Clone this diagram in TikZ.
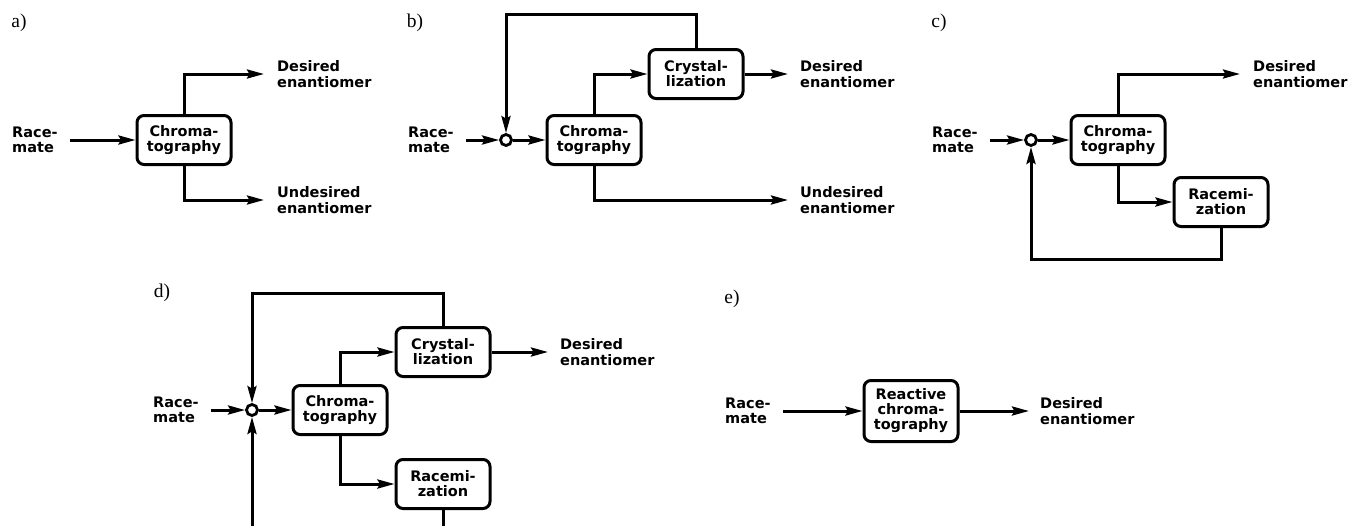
\documentclass[tikz,border=0pt]{standalone}
\usepackage{fontspec}
\setmainfont{Liberation Serif}
\newfontfamily\dejabold{DejaVu Sans Bold}
\usetikzlibrary{arrows.meta}
\tikzset{
  proc/.style={draw, line width=3pt, rounded corners=7pt, minimum width=94pt, minimum height=49pt, align=center, inner sep=2pt, font=\fontsize{14.5}{15}\selectfont\dejabold},
  txt/.style={align=left, inner sep=0pt, font=\fontsize{14.5}{15.5}\selectfont\dejabold},
  lbl/.style={inner sep=0pt, font=\fontsize{19.5}{19.5}\selectfont},
  junc/.style={draw, circle, line width=2.8pt, minimum size=11pt, inner sep=0pt},
  arr/.style={line width=3pt, -{Stealth[length=17pt,width=9pt,inset=2.5pt]}},
}
\begin{document}
\begin{tikzpicture}[x=1pt,y=-1pt]
\useasboundingbox (0,0) rectangle (1348,525);
\clip (0,0) rectangle (1348,525);
% ---------- a)
\node[lbl] (la) at (19,23) {a)};
\node[txt, anchor=west] (raceA) at (12,140) {Race-\\mate};
\node[proc] (chrA) at (184,140) {Chroma-\\tography};
\node[txt, anchor=west] (desA) at (277,74) {Desired\\enantiomer};
\node[txt, anchor=west] (undA) at (277,200) {Undesired\\enantiomer};
\draw[arr] ([xshift=12.5pt]raceA.east) -- (chrA.west);
\draw[arr] (chrA.north) |- ([xshift=-13pt]desA.west);
\draw[arr] (chrA.south) |- ([xshift=-13pt]undA.west);
% ---------- b)
\node[lbl] (lb) at (415,23) {b)};
\node[txt, anchor=west] (raceB) at (408,140) {Race-\\mate};
\node[junc] (circB) at (506,140) {};
\node[proc] (chrB) at (594,140) {Chroma-\\tography};
\node[proc] (cryB) at (696,74) {Crystal-\\lization};
\node[txt, anchor=west] (desB) at (800,74) {Desired\\enantiomer};
\node[txt, anchor=west] (undB) at (800,200) {Undesired\\enantiomer};
\draw[arr] ([xshift=12.5pt]raceB.east) -- (circB.west);
\draw[arr] (circB.east) -- (chrB.west);
\draw[arr] (chrB.north) |- (cryB.west);
\draw[arr] (cryB.east) -- ([xshift=-12pt]desB.west);
\draw[arr] (chrB.south) |- ([xshift=-12pt]undB.west);
\draw[arr] (cryB.north) -- ++(0,-34) -| (circB.north);
% ---------- c)
\node[lbl] (lc) at (939,23) {c)};
\node[txt, anchor=west] (raceC) at (932,140) {Race-\\mate};
\node[junc] (circC) at (1031,140) {};
\node[proc] (chrC) at (1118,140) {Chroma-\\tography};
\node[proc] (racC) at (1221,202) {Racemi-\\zation};
\node[txt, anchor=west] (desC) at (1253,74) {Desired\\enantiomer};
\draw[arr] ([xshift=12.5pt]raceC.east) -- (circC.west);
\draw[arr] (circC.east) -- (chrC.west);
\draw[arr] (chrC.north) |- ([xshift=-13pt]desC.west);
\draw[arr] (chrC.south) |- (racC.west);
\draw[arr] (racC.south) -- ++(0,31) -| (circC.south);
% ---------- d)
\node[lbl] (ld) at (162,293) {d)};
\node[txt, anchor=west] (raceD) at (153,410) {Race-\\mate};
\node[junc] (circD) at (252,410) {};
\node[proc] (chrD) at (340,410) {Chroma-\\tography};
\node[proc] (cryD) at (443,352) {Crystal-\\lization};
\node[proc] (racD) at (443,484) {Racemi-\\zation};
\node[txt, anchor=west] (desD) at (560,352) {Desired\\enantiomer};
\draw[arr] ([xshift=12.5pt]raceD.east) -- (circD.west);
\draw[arr] (circD.east) -- (chrD.west);
\draw[arr] (chrD.north) |- (cryD.west);
\draw[arr] (chrD.south) |- (racD.west);
\draw[arr] (cryD.east) -- ([xshift=-12pt]desD.west);
\draw[arr] (cryD.north) -- ++(0,-33) -| (circD.north);
\draw[arr] (racD.south) -- ++(0,50) -| (circD.south);
% ---------- e)
\node[lbl] (le) at (732,299) {e)};
\node[txt, anchor=west] (raceE) at (725,411) {Race-\\mate};
\node[proc, minimum height=61pt] (reE) at (911,411) {Reactive\\chroma-\\tography};
\node[txt, anchor=west] (desE) at (1040,411) {Desired\\enantiomer};
\draw[arr] ([xshift=12.5pt]raceE.east) -- (reE.west);
\draw[arr] (reE.east) -- ([xshift=-11pt]desE.west);
\end{tikzpicture}
\end{document}
